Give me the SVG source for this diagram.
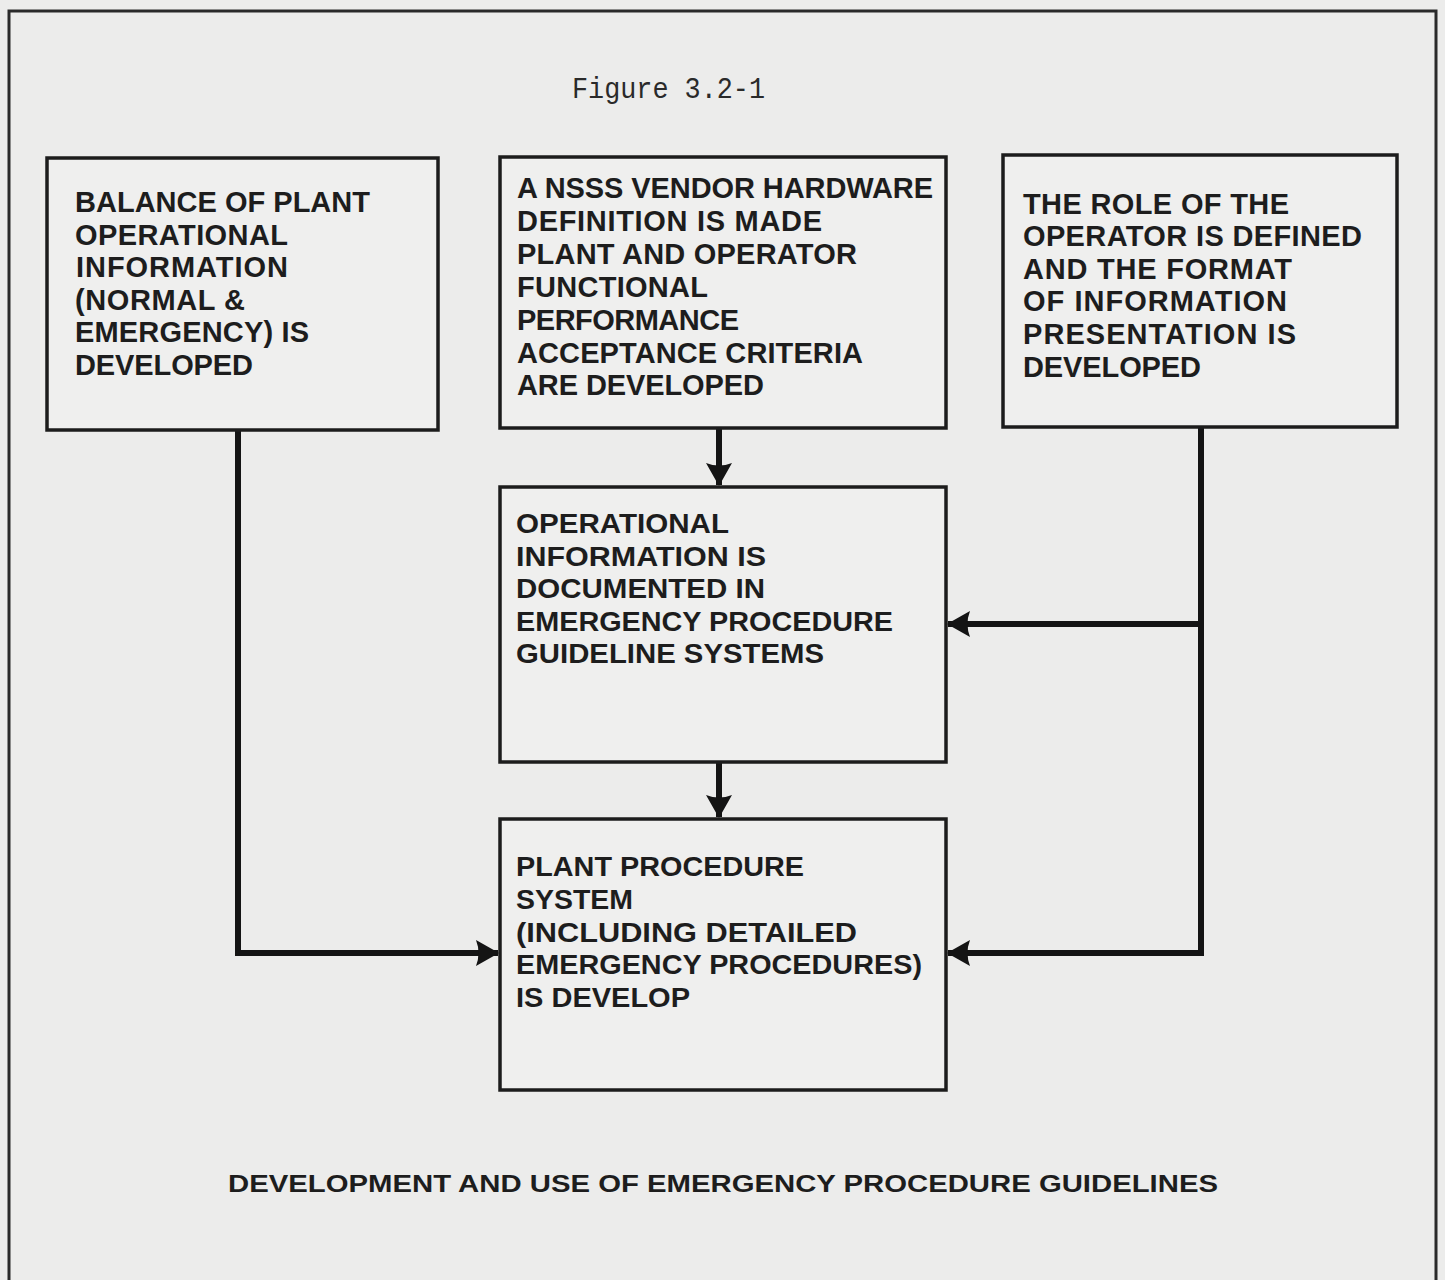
<svg xmlns="http://www.w3.org/2000/svg" width="1445" height="1280" viewBox="0 0 1445 1280">
  <defs>
    <style>
      .bg { fill: #ececeb; }
      .frame { fill: none; stroke: #2a2a2a; stroke-width: 3; }
      .box { fill: #efefee; stroke: #1c1c1c; stroke-width: 3.5; }
      .wire { fill: none; stroke: #141414; stroke-width: 6; stroke-linejoin: miter; }
      .lbl { font-family: "Liberation Sans", Arial, sans-serif; font-weight: bold; font-size: 29px; fill: #1d1d1d; }
      .cnd { font-family: "Liberation Sans", Arial, sans-serif; font-weight: bold; font-size: 27px; fill: #1d1d1d; }
      .cap { font-family: "Liberation Sans", Arial, sans-serif; font-weight: bold; font-size: 24px; fill: #1d1d1d; }
      .fig { font-family: "Liberation Mono", "DejaVu Sans Mono", monospace; font-size: 29px; fill: #2a2a2a; }
    </style>
    <marker id="head" viewBox="0 0 24 26" refX="22" refY="13" markerWidth="24" markerHeight="26" markerUnits="userSpaceOnUse" orient="auto">
      <path d="M0,0 Q5,13 0,26 L23,13 Z" fill="#141414"/>
    </marker>
  </defs>

  <rect class="bg" x="0" y="0" width="1445" height="1280"/>
  <!-- page frame; its lower edge runs past the sheet -->
  <path class="frame" d="M9,1290 V11 H1436 V1290"/>

  <text class="fig" x="572" y="98" textLength="193" lengthAdjust="spacingAndGlyphs">Figure 3.2-1</text>

  <!-- connectors -->
  <g id="connectors">
    <path class="wire" d="M719,428 V485" marker-end="url(#head)"/>
    <path class="wire" d="M719,762 V817" marker-end="url(#head)"/>
    <path class="wire" d="M238,430 V953 H498" marker-end="url(#head)"/>
    <path class="wire" d="M1201,427 V953 H948" marker-end="url(#head)"/>
    <path class="wire" d="M1201,624 H948" marker-end="url(#head)"/>
  </g>

  <g id="bop">
    <rect class="box" x="47" y="158" width="391" height="272"/>
    <text class="lbl" x="75" y="212" textLength="295">BALANCE OF PLANT</text>
    <text class="lbl" x="75" y="245" textLength="213">OPERATIONAL</text>
    <text class="lbl" x="76" y="277" textLength="212">INFORMATION</text>
    <text class="lbl" x="75" y="310" textLength="170">(NORMAL &amp;</text>
    <text class="lbl" x="75" y="342" textLength="234">EMERGENCY) IS</text>
    <text class="lbl" x="75" y="375" textLength="178">DEVELOPED</text>
  </g>

  <g id="nsss">
    <rect class="box" x="500" y="157" width="446" height="271"/>
    <text class="lbl" x="517" y="198" textLength="416">A NSSS VENDOR HARDWARE</text>
    <text class="lbl" x="517" y="231" textLength="305">DEFINITION IS MADE</text>
    <text class="lbl" x="517" y="264" textLength="340">PLANT AND OPERATOR</text>
    <text class="lbl" x="517" y="297" textLength="191">FUNCTIONAL</text>
    <text class="lbl" x="517" y="330" textLength="222">PERFORMANCE</text>
    <text class="lbl" x="517" y="363" textLength="346">ACCEPTANCE CRITERIA</text>
    <text class="lbl" x="517" y="395" textLength="247">ARE DEVELOPED</text>
  </g>

  <g id="operator">
    <rect class="box" x="1003" y="155" width="394" height="272"/>
    <text class="lbl" x="1023" y="214" textLength="266">THE ROLE OF THE</text>
    <text class="lbl" x="1023" y="246" textLength="339">OPERATOR IS DEFINED</text>
    <text class="lbl" x="1023" y="279" textLength="269">AND THE FORMAT</text>
    <text class="lbl" x="1023" y="311" textLength="264">OF INFORMATION</text>
    <text class="lbl" x="1023" y="344" textLength="273">PRESENTATION  IS</text>
    <text class="lbl" x="1023" y="377" textLength="178">DEVELOPED</text>
  </g>

  <g id="epg">
    <rect class="box" x="500" y="487" width="446" height="275"/>
    <text class="cnd" x="516" y="533" textLength="213" lengthAdjust="spacingAndGlyphs">OPERATIONAL</text>
    <text class="cnd" x="516" y="566" textLength="250" lengthAdjust="spacingAndGlyphs">INFORMATION IS</text>
    <text class="cnd" x="516" y="598" textLength="249" lengthAdjust="spacingAndGlyphs">DOCUMENTED IN</text>
    <text class="cnd" x="516" y="631" textLength="377" lengthAdjust="spacingAndGlyphs">EMERGENCY PROCEDURE</text>
    <text class="cnd" x="516" y="663" textLength="308" lengthAdjust="spacingAndGlyphs">GUIDELINE SYSTEMS</text>
  </g>

  <g id="pps">
    <rect class="box" x="500" y="819" width="446" height="271"/>
    <text class="cnd" x="516" y="876" textLength="288" lengthAdjust="spacingAndGlyphs">PLANT PROCEDURE</text>
    <text class="cnd" x="516" y="909" textLength="117" lengthAdjust="spacingAndGlyphs">SYSTEM</text>
    <text class="cnd" x="516" y="942" textLength="341" lengthAdjust="spacingAndGlyphs">(INCLUDING DETAILED</text>
    <text class="cnd" x="516" y="974" textLength="406" lengthAdjust="spacingAndGlyphs">EMERGENCY PROCEDURES)</text>
    <text class="cnd" x="516" y="1007" textLength="174" lengthAdjust="spacingAndGlyphs">IS DEVELOP</text>
  </g>

  <text class="cap" x="228" y="1192" textLength="990" lengthAdjust="spacingAndGlyphs">DEVELOPMENT AND USE OF EMERGENCY PROCEDURE GUIDELINES</text>
</svg>
